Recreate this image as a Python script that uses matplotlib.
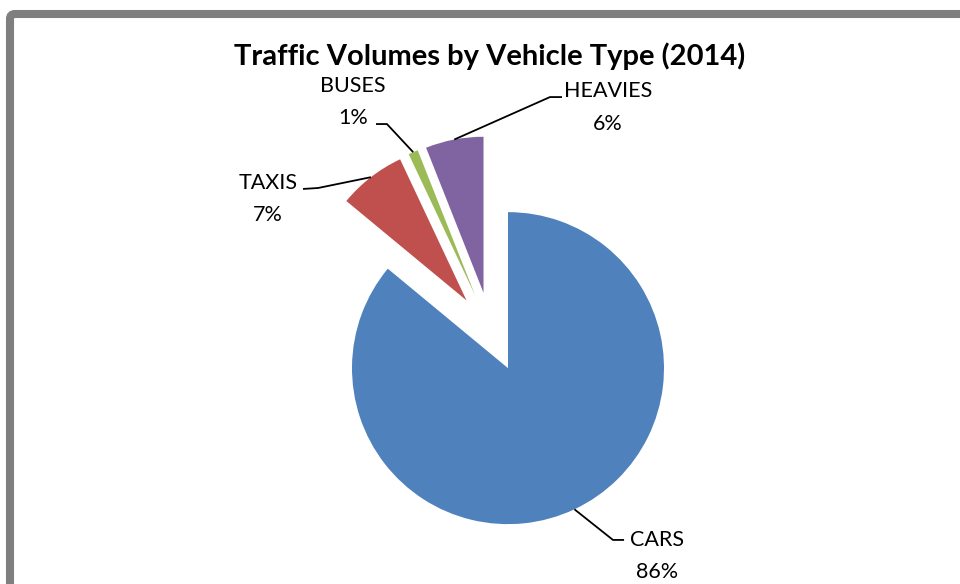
import numpy as np
import matplotlib
matplotlib.use("Agg")
import matplotlib.pyplot as plt
from matplotlib.patches import FancyBboxPatch

# data
labels = ["CARS", "TAXIS", "BUSES", "HEAVIES"]
shares = [86, 7, 1, 6]
colors = ["#4F81BD", "#C0504D", "#9BBB59", "#8064A2"]

# label layout (data units, pie radius = 1): text x, name y, pct y, elbow pts
label_pos = {
    "CARS":    (1.064, -1.333, -1.538, [(0.782, -1.333), (0.853, -1.333)]),
    "TAXIS":   (-1.429, 0.955, 0.750, [(-1.109, 0.923), (-1.205, 0.917)]),
    "BUSES":   (-0.885, 1.577, 1.372, [(-0.667, 1.333), (-0.737, 1.333)]),
    "HEAVIES": (0.750, 1.545, 1.333, [(0.378, 1.506), (0.455, 1.506)]),
}

W, H = 960, 584
scale = 156.0          # pixels per unit radius
cx, cy = 491, 332      # pie centre in pixels (from top)

plt.rcParams['font.family'] = ['Lato', 'DejaVu Sans']

fig = plt.figure(figsize=(W / 100, H / 100), dpi=100)
ax = fig.add_axes([0, 0, 1, 1])

wedges, _ = ax.pie(shares, colors=colors, startangle=90, counterclock=False,
                   explode=[0.256] * len(shares), radius=1,
                   wedgeprops=dict(linewidth=0))

ax.set_xlim(-cx / scale, (W - cx) / scale)
ax.set_ylim(-(H - cy) / scale, cy / scale)
ax.set_aspect('auto')
ax.axis('off')

for w, name, val in zip(wedges, labels, shares):
    tx, ny, py, elbow = label_pos[name]
    mid = np.deg2rad((w.theta1 + w.theta2) / 2)
    x0 = w.center[0] + w.r * np.cos(mid)
    y0 = w.center[1] + w.r * np.sin(mid)
    xs = [x0] + [p[0] for p in elbow]
    ys = [y0] + [p[1] for p in elbow]
    ax.plot(xs, ys, color='black', lw=1.3, solid_capstyle='butt')
    ax.text(tx, ny, name, ha='center', va='center', fontsize=15.5)
    ax.text(tx, py, f"{val}%", ha='center', va='center', fontsize=15.5)

fig.text(490 / W, 1 - 56 / H, "Traffic Volumes by Vehicle Type (2014)",
         ha='center', va='center', fontsize=21, fontweight='bold')

# chart frame, cut off at right and bottom like the original
frame = FancyBboxPatch((10, -60), W + 100, H - 14 + 60,
                       boxstyle="round,pad=0,rounding_size=5",
                       transform=None, fill=False, edgecolor='#7F7F7F',
                       linewidth=5.8, figure=fig)
fig.patches.append(frame)

fig.savefig("out.png", dpi=100)
